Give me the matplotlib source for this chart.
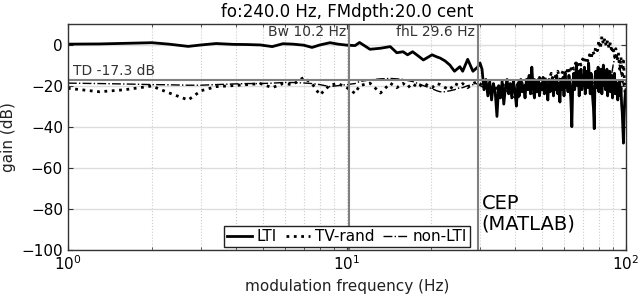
import matplotlib
matplotlib.use("Agg")
import matplotlib.pyplot as plt

# modulation frequencies (Hz)
freq_lo = [1.0, 1.3, 1.6, 2.0, 2.3, 2.7, 3.0, 3.4, 3.9, 4.4,
           4.9, 5.4, 5.9, 6.4, 7.0, 7.5, 8.0, 8.7, 9.3, 10.0]
freq_mid = [10.7, 11.1, 12.1, 13.2, 14.3, 15.1, 15.9, 16.5, 17.2, 18.0, 18.8,
            20.2, 21.0, 21.6, 22.5, 23.4, 24.3, 25.4, 26.0, 27.1, 28.3, 29.4]
freq_hi = [30, 31, 32, 33, 34, 35, 36, 37, 38, 39, 40, 41, 42, 43, 44, 45,
           46, 47, 48, 49, 50, 51, 52, 53, 54, 55, 56, 57, 58, 59, 60, 61,
           62, 63, 64, 65, 66, 67, 68, 69, 70, 71, 72, 73, 74, 75, 76, 77,
           78, 79, 80, 81, 82, 83, 84, 85, 86, 87, 88, 89, 90, 91, 92, 93,
           94, 95, 96, 97, 98, 99, 100]
# LTI is sampled finer above fhL
freq_lti_hi = [30, 30.5, 31, 31.5, 32, 32.5, 33, 33.5, 34, 34.5,
               35, 35.5, 36, 36.5, 37, 37.5, 38, 38.5, 39, 39.5,
               40, 40.5, 41, 41.5, 42, 42.5, 43, 43.5, 44, 44.5,
               45, 45.5, 46, 46.5, 47, 47.5, 48, 48.5, 49, 49.5,
               50, 50.5, 51, 51.5, 52, 52.5, 53, 53.5, 54, 54.5,
               55, 55.5, 56, 56.5, 57, 57.5, 58, 58.5, 59, 59.5,
               60, 60.5, 61, 61.5, 62, 62.5, 63, 63.5, 64, 64.5,
               65, 65.5, 66, 66.5, 67, 67.5, 68, 68.5, 69, 69.5,
               70, 70.5, 71, 71.5, 72, 72.5, 73, 73.5, 74, 74.5,
               75, 75.5, 76, 76.5, 77, 77.5, 78, 78.5, 79, 79.5,
               80, 80.5, 81, 81.5, 82, 82.5, 83, 83.5, 84, 84.5,
               85, 85.5, 86, 86.5, 87, 87.5, 88, 88.5, 89, 89.5,
               90, 90.5, 91, 91.5, 92, 92.5, 93, 93.5, 94, 94.5,
               95, 95.5, 96, 96.5, 97, 97.5, 98, 98.5, 99, 99.5,
               100]

# gain (dB)
lti_lo = [0.2, 0.3, 0.6, 0.9, 0.2, -0.9, -0.2, 0.5, 0.1, 0.0,
          -0.2, -1.0, 0.4, 0.2, -0.3, -1.4, -0.2, 0.9, 0.2, -0.3]
lti_mid = [-0.5, 1.0, -2.3, -1.8, -1.0, -4.0, -3.5, -5.0, -3.5, -5.5, -7.5,
           -5.0, -6.0, -6.6, -8.0, -10.0, -13.0, -10.8, -13.0, -7.2, -13.0, -11.0]
lti_hi = [-9, -12, -22, -17, -25, -18, -27, -19, -23, -35,
          -20, -26, -18, -29, -21, -17, -24, -19, -26, -18,
          -22, -30, -19, -25, -17, -23, -20, -26, -17, -22,
          -15, -24, -11, -21, -26, -18, -23, -17, -25, -19,
          -22, -16, -24, -18, -21, -27, -17, -23, -19, -16,
          -25, -18, -22, -15, -24, -19, -28, -17, -22, -16,
          -25, -14, -21, -18, -23, -15, -20, -27, -40, -19,
          -14, -22, -17, -9, -20, -13, -25, -16, -12, -22,
          -15, -20, -11, -24, -16, -13, -21, -9, -18, -24,
          -14, -19, -26, -31, -41, -16, -13, -21, -17, -11,
          -23, -15, -19, -12, -24, -16, -10, -20, -14, -22,
          -17, -12, -25, -16, -20, -13, -23, -18, -15, -26,
          -17, -21, -14, -24, -18, -22, -19, -27, -20, -23,
          -18, -25, -21, -29, -33, -40, -48, -36, -28, -24,
          -22]

tv_lo = [-21.3, -23.0, -22.0, -20.2, -23.5, -27.0, -22.5, -20.5, -20.0, -19.5,
         -19.0, -21.0, -19.0, -19.5, -16.0, -19.0, -24.5, -19.7, -19.0, -21.0]
tv_mid = [-23.8, -20.0, -18.8, -23.6, -18.8, -21.0, -18.9, -21.0, -19.0, -21.0, -18.8,
          -21.0, -19.0, -19.5, -21.0, -22.0, -19.0, -20.0, -19.0, -21.0, -19.0, -18.0]
tv_hi = [-19, -21, -18, -22, -20, -23, -19, -21, -18, -22, -20, -19, -17, -21,
         -18, -16, -19, -17, -20, -16, -18, -15, -19, -17, -14, -18, -15, -13,
         -17, -14, -12, -15, -11, -14, -10, -12, -9, -11, -8, -10, -7, -9,
         -6, -8, -5, -7, -3, -5, -1, -3, 2, -2, 4, 0, 3, -1,
         2, -2, 1, -4, -1, -6, -2, -8, -4, -12, -6, -18, -8, -20, -32]

nl_lo = [-18.8, -19.0, -19.2, -19.5, -19.6, -19.8, -19.8, -19.5, -19.2, -19.0,
         -19.0, -18.8, -18.5, -18.5, -18.7, -19.0, -19.5, -20.5, -20.0, -19.5]
nl_mid = [-19.0, -18.0, -17.2, -16.7, -16.5, -16.7, -17.0, -17.5, -18.0, -19.0, -20.0,
          -21.5, -22.5, -23.0, -23.0, -22.5, -22.0, -21.0, -21.0, -20.0, -19.5, -19.0]
nl_hi = [-20, -21, -22, -21, -21, -23, -24, -23, -22, -25, -26, -27, -23, -22,
         -21, -22, -24, -23, -22, -21, -20, -22, -23, -22, -21, -20, -19, -21,
         -22, -21, -20, -19, -18, -20, -21, -20, -19, -18, -17, -19, -20, -19,
         -18, -17, -16, -18, -19, -18, -17, -16, -15, -17, -18, -19, -20, -21,
         -23, -22, -18, -14, -10, -7, -5, -6, -8, -11, -14, -17, -20, -19, -18]

bw = 10.2
fhl = 29.6
td = -17.3

freq = freq_lo + freq_mid + freq_hi
freq_lti = freq_lo + freq_mid + freq_lti_hi
lti = lti_lo + lti_mid + lti_hi
tv = tv_lo + tv_mid + tv_hi
nl = nl_lo + nl_mid + nl_hi

fig = plt.figure(figsize=(6.4, 3.04), dpi=100)
ax = fig.add_axes([0.106, 0.178, 0.872, 0.743])

ax.semilogx(freq_lti, lti, "k-", lw=2.0, label="LTI")
ax.semilogx(freq, tv, "k:", lw=2.0, label="TV-rand")
ax.semilogx(freq, nl, "k-.", lw=1.0, label="non-LTI")

grey = "#808080"
ax.axvline(bw, color=grey, lw=1.5)
ax.axvline(fhl, color=grey, lw=1.5)
ax.axhline(td, color=grey, lw=1.5)

ax.text(bw * 0.975, 9.3, "Bw %.1f Hz" % bw, ha="right", va="top",
        fontsize=10, color="#333333")
ax.text(fhl * 0.975, 9.3, "fhL %.1f Hz" % fhl, ha="right", va="top",
        fontsize=10, color="#333333")
ax.text(1.04, td + 1.0, "TD %.1f dB" % td, ha="left", va="bottom",
        fontsize=10, color="#333333")
ax.text(fhl * 1.025, -92, "CEP\n(MATLAB)", ha="left", va="bottom",
        fontsize=14, linespacing=1.1)

ax.set_xlim(1, 100)
ax.set_ylim(-100, 10)
ax.set_yticks([-100, -80, -60, -40, -20, 0])
ax.grid(True, which="major", axis="y", color="#dddddd", lw=1.0)
ax.grid(True, which="both", axis="x", color="#cccccc", ls=":", lw=0.8)
ax.set_axisbelow(True)
ax.tick_params(which="both", direction="in", top=True, right=True,
               labelsize=11, color="#333333")
for s in ax.spines.values():
    s.set_color("#333333")
    s.set_linewidth(1.0)

ax.set_xlabel("modulation frequency (Hz)", fontsize=11, color="#222222")
ax.set_ylabel("gain (dB)", fontsize=11, color="#222222")
ax.set_title("fo:240.0 Hz, FMdpth:20.0 cent", fontsize=12, pad=5)

leg = ax.legend(loc="lower center", bbox_to_anchor=(0.5, 0.005), ncol=3,
                fontsize=11, handlelength=1.6, handletextpad=0.3,
                columnspacing=0.6, borderpad=0.2, fancybox=False,
                framealpha=1.0, edgecolor="#222222", borderaxespad=0.1)
leg.get_frame().set_linewidth(1.0)

plt.savefig("out.png", dpi=100)
